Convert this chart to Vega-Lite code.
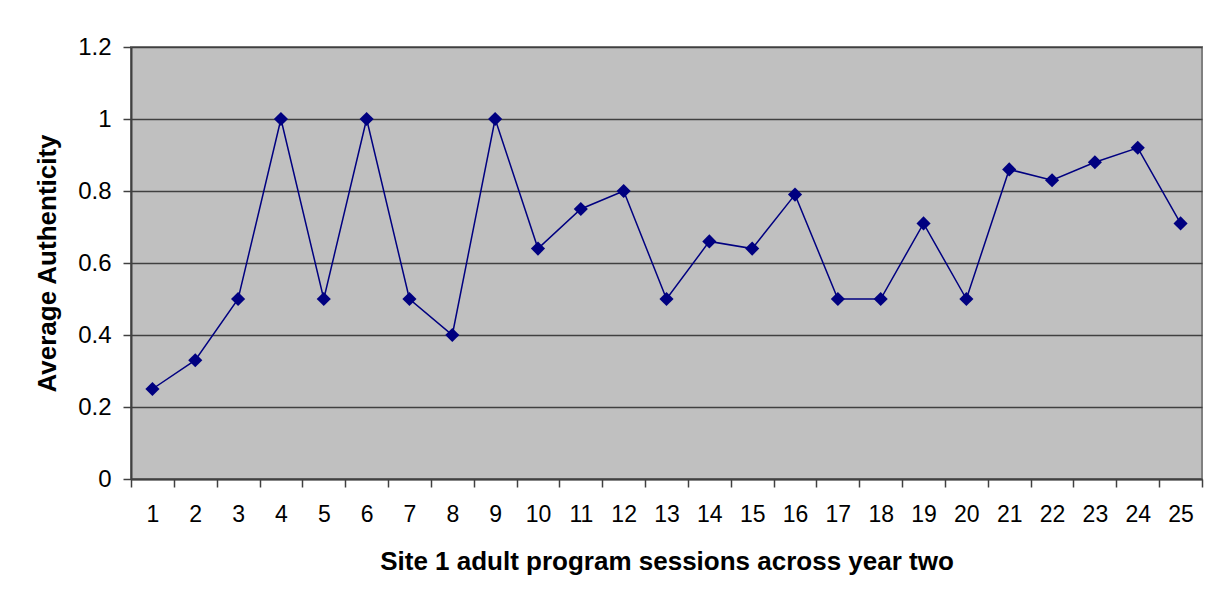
{
  "$schema": "https://vega.github.io/schema/vega-lite/v6.json",
  "width": 1071,
  "height": 432,
  "autosize": {"type": "none"},
  "padding": {"left": 131, "top": 47, "right": 18, "bottom": 129},
  "background": "white",
  "config": {
    "font": "Liberation Sans",
    "view": {"fill": "#C0C0C0", "stroke": "#808080", "strokeWidth": 2}
  },
  "data": {
    "values": [
      {"session": "1", "value": 0.25},
      {"session": "2", "value": 0.33},
      {"session": "3", "value": 0.5},
      {"session": "4", "value": 1.0},
      {"session": "5", "value": 0.5},
      {"session": "6", "value": 1.0},
      {"session": "7", "value": 0.5},
      {"session": "8", "value": 0.4},
      {"session": "9", "value": 1.0},
      {"session": "10", "value": 0.64},
      {"session": "11", "value": 0.75},
      {"session": "12", "value": 0.8},
      {"session": "13", "value": 0.5},
      {"session": "14", "value": 0.66},
      {"session": "15", "value": 0.64},
      {"session": "16", "value": 0.79},
      {"session": "17", "value": 0.5},
      {"session": "18", "value": 0.5},
      {"session": "19", "value": 0.71},
      {"session": "20", "value": 0.5},
      {"session": "21", "value": 0.86},
      {"session": "22", "value": 0.83},
      {"session": "23", "value": 0.88},
      {"session": "24", "value": 0.92},
      {"session": "25", "value": 0.71}
    ]
  },
  "mark": {
    "type": "line",
    "color": "#000080",
    "strokeWidth": 1.5,
    "point": {"shape": "diamond", "size": 200, "filled": true, "color": "#000080", "opacity": 1}
  },
  "encoding": {
    "x": {
      "field": "session",
      "type": "ordinal",
      "sort": null,
      "scale": {"type": "band", "paddingInner": 0, "paddingOuter": 0},
      "axis": {
        "title": "Site 1 adult program sessions across year two",
        "titleFont": "Liberation Sans",
        "titleFontSize": 26,
        "titleFontWeight": "bold",
        "titleColor": "black",
        "titlePadding": 22,
        "labelAngle": 0,
        "labelFontSize": 23,
        "labelColor": "black",
        "labelPadding": 16,
        "tickBand": "extent",
        "tickExtra": true,
        "tickSize": 8,
        "tickColor": "#404040",
        "tickWidth": 1.5,
        "domainColor": "#404040",
        "domainWidth": 2,
        "grid": false
      }
    },
    "y": {
      "field": "value",
      "type": "quantitative",
      "scale": {"domain": [0, 1.2], "nice": false, "zero": true},
      "axis": {
        "title": "Average Authenticity",
        "titleFont": "Liberation Sans",
        "titleFontSize": 26,
        "titleFontWeight": "bold",
        "titleColor": "black",
        "titlePadding": 17,
        "values": [0, 0.2, 0.4, 0.6, 0.8, 1, 1.2],
        "format": "~g",
        "labelFontSize": 24,
        "labelColor": "black",
        "labelPadding": 12,
        "tickSize": 8,
        "tickColor": "#404040",
        "tickWidth": 1.5,
        "domainColor": "#404040",
        "domainWidth": 2,
        "grid": true,
        "gridColor": "#404040",
        "gridWidth": 1.5,
        "gridOpacity": 1
      }
    }
  }
}
